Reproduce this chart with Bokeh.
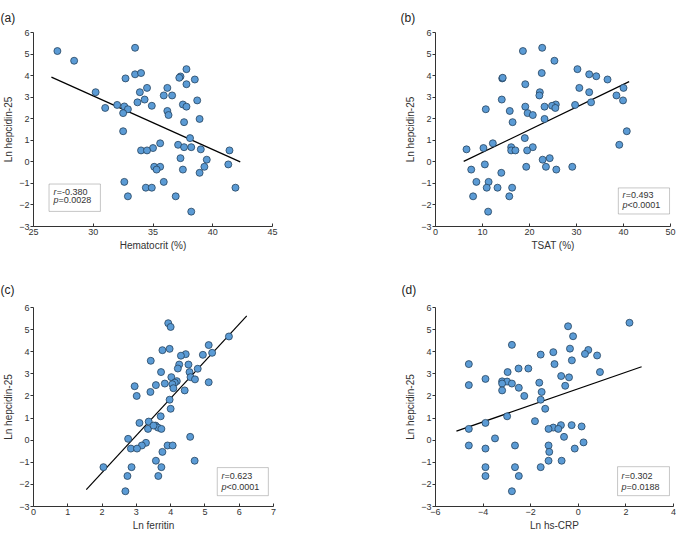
from bokeh.plotting import figure
from bokeh.layouts import column, row
from bokeh.models import Label, BoxAnnotation, FixedTicker, Range1d
from bokeh.embed import file_html
from bokeh.resources import INLINE

# ---- data: Ln hepcidin-25 against four predictors ----
hct = [27.0, 28.4, 33.5, 37.8, 33.5, 34.0, 32.7, 37.3, 37.2, 38.5, 37.8, 34.5, 36.2, 30.2, 33.9,
       35.9, 36.6, 34.3, 38.7, 33.7, 37.5, 32.0, 37.8, 32.6, 34.9, 31.0, 32.9, 36.2, 32.5, 36.3,
       38.9, 37.6, 32.5, 38.1, 35.6, 37.1, 38.2, 37.6, 35.0, 39.0, 34.0, 34.5, 41.4, 37.3, 39.5,
       41.3, 35.1, 35.6, 39.3, 35.3, 37.5, 38.9, 32.6, 35.9, 34.4, 34.9, 41.9, 32.9, 36.9, 38.2]
hep_a = [5.14, 4.69, 5.29, 4.30, 4.06, 4.12, 3.87, 3.96, 3.90, 3.82, 3.60, 3.43, 3.43, 3.23, 3.23,
         3.08, 3.08, 2.89, 2.85, 2.76, 2.66, 2.64, 2.56, 2.57, 2.60, 2.50, 2.44, 2.36, 2.26, 2.17,
         1.99, 1.84, 1.42, 1.10, 0.86, 0.79, 0.68, 0.68, 0.64, 0.58, 0.53, 0.53, 0.53, 0.17, 0.10,
         -0.12, -0.23, -0.23, -0.23, -0.36, -0.36, -0.51, -0.93, -0.93, -1.20, -1.20, -1.20, -1.60, -1.60, -2.31]

tsat = [18.6, 22.7, 25.3, 30.2, 22.6, 32.7, 34.2, 36.6, 14.2, 14.3, 19.1, 30.6, 40.0, 22.2, 32.7,
        22.1, 38.5, 14.1, 39.9, 33.1, 25.6, 29.7, 19.1, 23.2, 24.8, 25.5, 10.7, 15.8, 19.6, 20.7,
        23.2, 16.4, 40.7, 19.0, 12.2, 39.1, 16.1, 20.7, 6.6, 10.2, 16.1, 17.0, 19.5, 24.3, 22.8,
        10.5, 19.3, 23.5, 29.1, 7.6, 25.7, 14.0, 8.7, 11.3, 10.9, 13.2, 16.3, 8.0, 15.7, 11.2]
hep_b = [5.14, 5.29, 4.69, 4.30, 4.12, 4.06, 3.97, 3.82, 3.87, 3.90, 3.60, 3.43, 3.43, 3.23, 3.23,
         3.08, 3.08, 2.89, 2.85, 2.76, 2.66, 2.64, 2.56, 2.56, 2.60, 2.50, 2.44, 2.36, 2.26, 2.17,
         1.99, 1.84, 1.42, 1.10, 0.86, 0.79, 0.68, 0.68, 0.58, 0.64, 0.53, 0.53, 0.53, 0.17, 0.10,
         -0.12, -0.23, -0.23, -0.23, -0.36, -0.36, -0.51, -0.93, -0.93, -1.20, -1.20, -1.20, -1.60, -1.60, -2.31]

ln_ferritin = [3.93, 4.00, 5.70, 5.11, 3.76, 3.97, 4.44, 4.30, 4.94, 5.21, 3.42, 4.25, 4.52, 4.21, 4.79,
               3.72, 4.55, 4.02, 4.58, 4.71, 4.18, 5.11, 4.12, 3.83, 4.05, 3.57, 2.95, 4.08, 3.41, 4.41,
               3.01, 3.97, 4.00, 3.71, 3.36, 3.09, 3.56, 3.63, 3.34, 3.73, 3.50, 2.76, 4.57, 3.28, 3.16,
               3.91, 4.06, 2.84, 3.02, 3.76, 3.57, 4.70, 2.04, 2.86, 3.73, 2.74, 3.64, 2.68]
hep_c = [5.29, 5.12, 4.69, 4.30, 4.07, 4.13, 3.89, 3.82, 3.86, 3.95, 3.59, 3.42, 3.42, 3.24, 3.23,
         3.08, 3.08, 2.85, 2.85, 2.75, 2.67, 2.62, 2.60, 2.56, 2.53, 2.49, 2.44, 2.35, 2.18, 2.25,
         2.00, 1.83, 1.42, 1.08, 0.84, 0.78, 0.66, 0.57, 0.51, 0.51, 0.66, 0.06, 0.15, -0.12, -0.24,
         -0.24, -0.24, -0.38, -0.38, -0.53, -0.93, -0.93, -1.22, -1.22, -1.22, -1.62, -1.62, -2.31]

ln_crp = [2.15, -0.43, -0.22, -2.79, -0.35, 0.42, -1.05, 0.28, -1.58, 0.79, -0.27, -4.60, -1.00, -2.51, -2.10,
          -2.97, 0.91, -0.72, -0.39, -3.90, -3.20, -2.99, -1.64, -2.79, -3.20, -4.60, -0.55, -2.50, -3.20, -1.54,
          -2.27, -1.58, -1.39, -2.99, -1.82, -3.90, -0.73, -0.28, 0.14, -1.05, -1.25, -0.84, -4.60, -3.50, -0.60,
          0.22, -4.60, -2.66, -1.25, -3.90, -0.15, -1.22, -1.25, -0.70, -3.90, -2.66, -1.58, -3.90, -2.50, -2.79]
hep_d = [5.31, 5.15, 4.70, 4.31, 4.14, 4.08, 3.98, 3.90, 3.87, 3.83, 3.61, 3.44, 3.44, 3.24, 3.24,
         3.08, 3.08, 2.90, 2.84, 2.77, 2.66, 2.65, 2.60, 2.56, 2.56, 2.49, 2.46, 2.37, 2.25, 2.18,
         2.00, 1.83, 1.42, 1.08, 0.86, 0.78, 0.68, 0.68, 0.62, 0.57, 0.51, 0.51, 0.51, 0.08, 0.15,
         -0.10, -0.24, -0.24, -0.24, -0.38, -0.38, -0.53, -0.93, -0.93, -1.22, -1.22, -1.22, -1.62, -1.62, -2.31]

# regression lines (end points)
fit_a_x, fit_a_y = [26.5, 42.3], [3.93, 0.00]
fit_b_x, fit_b_y = [6.0, 41.2], [0.02, 3.72]
fit_c_x, fit_c_y = [1.54, 6.22], [-2.24, 5.62]
fit_d_x, fit_d_y = [-5.12, 2.66], [0.41, 3.32]

# correlation statistics
stats_r = ["=-0.380", "=0.493", "=0.623", "=0.302"]
stats_p = ["=0.0028", "<0.0001", "<0.0001", "=0.0188"]

FONT = "Liberation Sans"
INK = "#333333"


def make_panel(x, y, fx, fy, xr, xticks, xlabel, tag, r_txt, p_txt,
               box, text_x, text_y, borders, tag_offset, tag_standoff):
    left, right, top, bottom = borders
    p = figure(width=338, height=267, output_backend="svg", toolbar_location=None,
               x_range=Range1d(*xr), y_range=Range1d(-3, 6),
               min_border_left=left, min_border_right=right,
               min_border_top=top, min_border_bottom=bottom)
    p.outline_line_color = None
    p.grid.visible = False
    p.background_fill_color = "white"
    p.border_fill_color = "white"

    # panel tag as a left-aligned title shifted over the axis area
    p.title.text = tag
    p.title.align = "left"
    p.title.offset = tag_offset
    p.title.standoff = tag_standoff
    p.title.text_font = FONT
    p.title.text_font_size = "12px"
    p.title.text_font_style = "normal"
    p.title.text_color = "#222222"

    p.xaxis.ticker = FixedTicker(ticks=xticks)
    p.yaxis.ticker = FixedTicker(ticks=list(range(-3, 7)))
    for ax in (p.xaxis[0], p.yaxis[0]):
        ax.axis_line_color = INK
        ax.major_tick_line_color = INK
        ax.minor_tick_line_color = None
        ax.major_label_text_font = FONT
        ax.major_label_text_font_size = "9px"
        ax.major_label_text_color = INK
        ax.axis_label_text_font = FONT
        ax.axis_label_text_font_size = "10px"
        ax.axis_label_text_font_style = "normal"
        ax.axis_label_text_color = INK
    p.xaxis.major_tick_in = 3
    p.xaxis.major_tick_out = 0
    p.yaxis.major_tick_in = 0
    p.yaxis.major_tick_out = 3
    p.xaxis.major_label_standoff = 2
    p.yaxis.major_label_standoff = 1
    p.xaxis.axis_label_standoff = 2
    p.yaxis.axis_label_standoff = 2
    p.xaxis.axis_label = xlabel
    p.yaxis.axis_label = "Ln hepcidin-25"

    p.line(fx, fy, line_color="black", line_width=1.2)
    p.scatter(x, y, size=7, fill_color="#5b9bd5", line_color="#24425e", line_width=0.8)

    # statistics box
    p.add_layout(BoxAnnotation(left=box[0], right=box[1], bottom=box[2], top=box[3],
                               fill_color="white", fill_alpha=1.0,
                               line_color="#444444", line_width=1))
    for i, (sym, txt, w) in enumerate((("r", r_txt, 3.2), ("p", p_txt, 5.0))):
        p.add_layout(Label(x=text_x, y=text_y[i], text=sym, text_font=FONT,
                           text_font_style="italic", text_font_size="9px",
                           text_color=INK, text_baseline="middle"))
        p.add_layout(Label(x=text_x, y=text_y[i], x_offset=w, text=txt, text_font=FONT,
                           text_font_size="9px", text_color=INK, text_baseline="middle"))
    return p


pa = make_panel(hct, hep_a, fit_a_x, fit_a_y, (25, 45), [25, 30, 35, 40, 45],
                "Hematocrit (%)", "(a)", stats_r[0], stats_p[0],
                (26.3, 30.6, -2.3, -1.03), 26.67, (-1.39, -1.79),
                (32, 66, 26, 41), -33, 16)
pb = make_panel(tsat, hep_b, fit_b_x, fit_b_y, (0, 50), [0, 10, 20, 30, 40, 50],
                "TSAT (%)", "(b)", stats_r[1], stats_p[1],
                (38.9, 49.8, -2.42, -1.21), 39.8, (-1.55, -2.0),
                (97, 6, 26, 41), -35, 15)
pc = make_panel(ln_ferritin, hep_c, fit_c_x, fit_c_y, (0, 7), list(range(0, 8)),
                "Ln ferritin", "(c)", stats_r[2], stats_p[2],
                (5.36, 6.85, -2.51, -1.24), 5.48, (-1.6, -2.1),
                (33, 65, 40, 28), -33, 22)
pd_ = make_panel(ln_crp, hep_d, fit_d_x, fit_d_y, (-6, 4), [-6, -4, -2, 0, 2, 4],
                 "Ln hs-CRP", "(d)", stats_r[3], stats_p[3],
                 (1.65, 3.83, -2.51, -1.2), 1.82, (-1.6, -2.1),
                 (97, 3, 40, 28), -34, 22)

layout = column(row(pa, pb, spacing=0), row(pc, pd_, spacing=0), spacing=0)
open("out.html", "w").write(file_html(layout, INLINE))
